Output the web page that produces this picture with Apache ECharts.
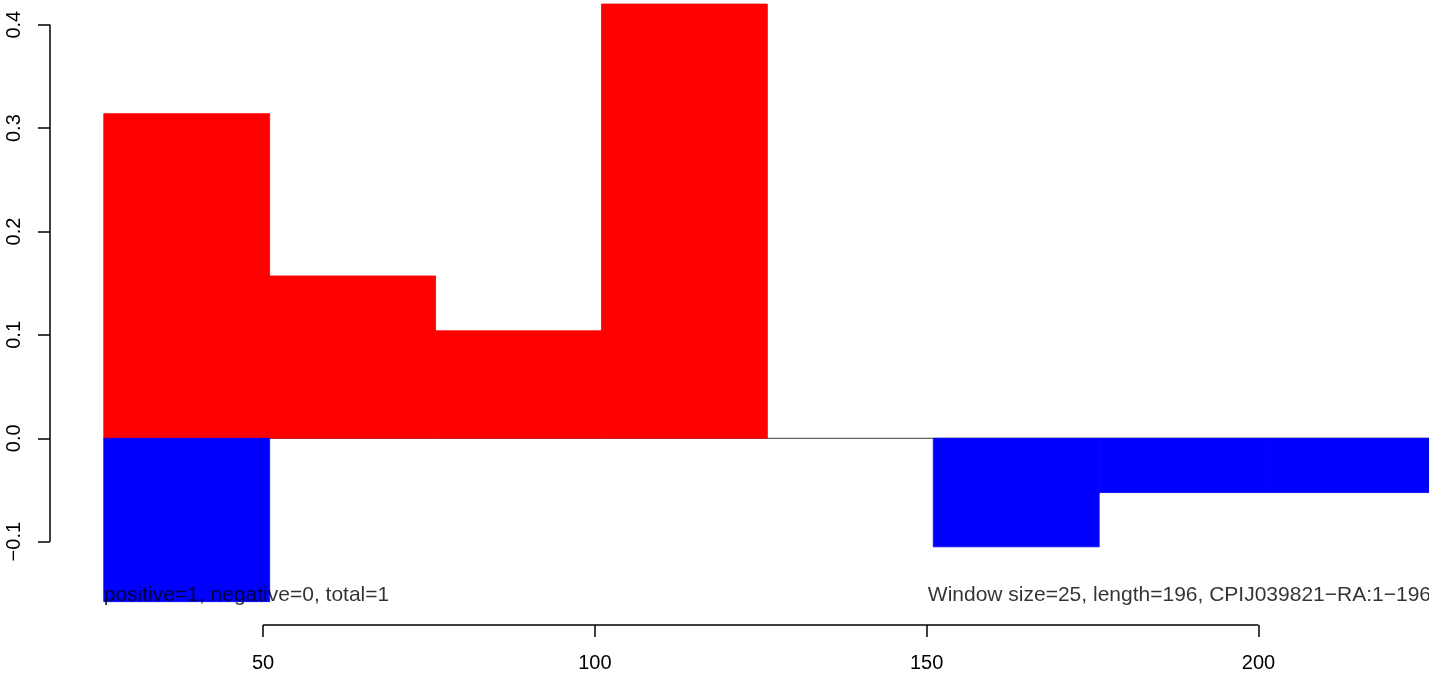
<!DOCTYPE html>
<html>
<head>
<meta charset="utf-8">
<script src="https://cdn.jsdelivr.net/npm/echarts@6/dist/echarts.min.js"></script>
<style>html,body{margin:0;padding:0;background:#fff}#c{width:1429px;height:673px}</style>
</head>
<body>
<div id="c"></div>
<script>
// Window start/end positions
var windowStart = [26, 51, 76, 101, 126, 151, 176, 201];
var windowEnd   = [51, 76, 101, 126, 151, 176, 201, 226];
// Positive (red) and negative (blue) scores per window
var positiveVals = [0.314, 0.157, 0.104, 0.42, 0, 0, 0, 0];
var negativeVals = [-0.158, 0, 0, 0, 0, -0.105, -0.0525, -0.0525];
// Tick values
var xTicks = [50, 100, 150, 200];
var yTicks = [-0.1, 0, 0.1, 0.2, 0.3, 0.4];
var leftNote = 'positive=1, negative=0, total=1';
var rightNote = 'Window size=25, length=196, CPIJ039821\u2212RA:1\u2212196';

var X_MIN = 17.9, X_MAX = 225.7, Y_MIN = -0.1806, Y_MAX = 0.4239;
var FONT = 'Liberation Sans, Arial, Helvetica, sans-serif';

function barData(vals) {
  return vals.map(function (v, i) { return [windowStart[i], windowEnd[i], v]; });
}
function renderRect(color) {
  return function (params, api) {
    var p0 = api.coord([api.value(0), 0]);
    var p1 = api.coord([api.value(1), api.value(2)]);
    var y = Math.min(p0[1], p1[1]), h = Math.abs(p1[1] - p0[1]);
    if (h < 0.01) return null;
    return { type: 'rect', shape: { x: p0[0], y: y, width: p1[0] - p0[0], height: h },
             style: { fill: color, stroke: color, lineWidth: 0.8 } };
  };
}

var chart = echarts.init(document.getElementById('c'), null, { renderer: 'canvas' });
chart.setOption({
  animation: false,
  backgroundColor: '#ffffff',
  grid: { left: 50, right: 0, top: 0, bottom: 48, containLabel: false },
  xAxis: {
    type: 'value', min: X_MIN, max: X_MAX,
    axisLine: { show: false, onZero: false }, splitLine: { show: false },
    axisTick: { show: true, customValues: xTicks, length: 12, lineStyle: { color: '#000', width: 1.5 } },
    axisLabel: { show: true, customValues: xTicks, margin: 38, color: '#000', fontSize: 20, fontFamily: FONT,
                 verticalAlign: 'middle' }
  },
  yAxis: {
    type: 'value', min: Y_MIN, max: Y_MAX,
    axisLine: { show: false, onZero: false }, splitLine: { show: false },
    axisTick: { show: true, customValues: yTicks, length: 12, lineStyle: { color: '#000', width: 1.5 } },
    axisLabel: { show: true, customValues: yTicks, rotate: 90, margin: 36, color: '#000', fontSize: 20, fontFamily: FONT,
                 align: 'center', verticalAlign: 'middle',
                 formatter: function (v) { return v.toFixed(1).replace('-', '\u2212'); } }
  },
  series: [
    { type: 'line', data: [[windowStart[0], 0], [windowEnd[windowEnd.length - 1], 0]], symbol: 'none',
      lineStyle: { color: '#666666', width: 1.2 }, z: 1, silent: true },
    { type: 'custom', renderItem: renderRect('#ff0000'), data: barData(positiveVals), z: 2,
      encode: { x: [0, 1], y: 2 } },
    { type: 'custom', renderItem: renderRect('#0000ff'), data: barData(negativeVals), z: 2,
      encode: { x: [0, 1], y: 2 } },
    { type: 'line', data: [[xTicks[0], Y_MIN], [xTicks[xTicks.length - 1], Y_MIN]], symbol: 'none', clip: false,
      lineStyle: { color: '#000', width: 1.5 }, z: 5, silent: true },
    { type: 'line', data: [[X_MIN, yTicks[0]], [X_MIN, yTicks[yTicks.length - 1]]], symbol: 'none', clip: false,
      lineStyle: { color: '#000', width: 1.5 }, z: 5, silent: true },
    { type: 'scatter', symbolSize: 0, z: 6, clip: false,
      data: [{ value: [windowStart[0], -0.1516], label: { formatter: leftNote, position: 'right', distance: 0 } },
             { value: [windowEnd[windowEnd.length - 1], -0.1516], label: { formatter: rightNote, position: 'left', distance: 0 } }],
      label: { show: true, color: '#000', fontSize: 21, fontFamily: FONT } }
  ]
});
</script>
</body>
</html>
